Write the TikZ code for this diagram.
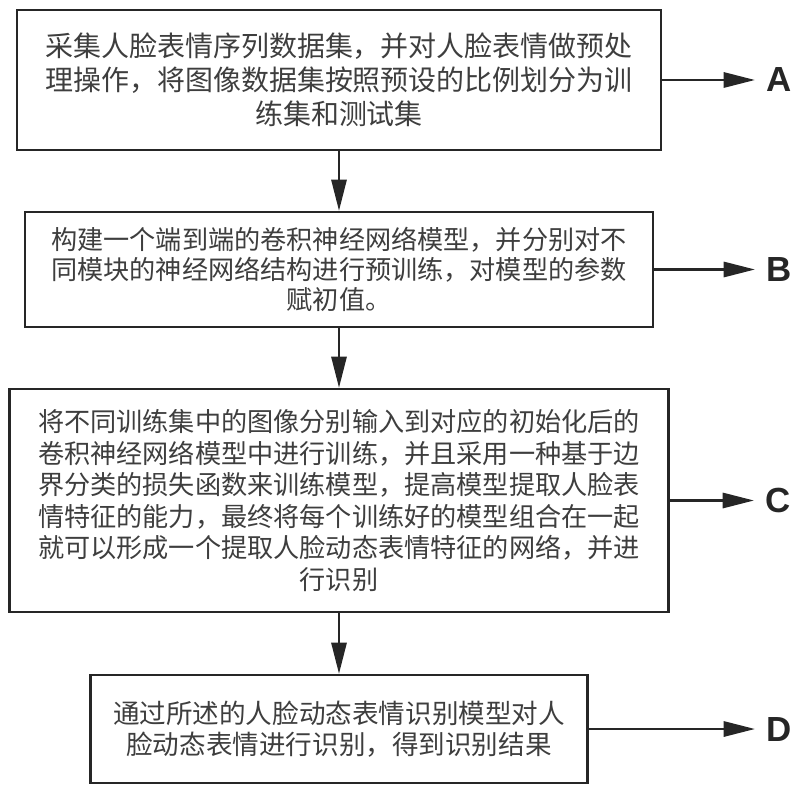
\documentclass[tikz,border=0pt]{standalone}
\usepackage{fontspec}
\setmainfont{Noto Sans CJK SC}
\newfontfamily\letterfont{Liberation Sans}
\usetikzlibrary{arrows.meta}
\definecolor{textgray}{RGB}{62,62,62}

\begin{document}
\begin{tikzpicture}[x=0.025cm, y=-0.025cm,
  box/.style={draw=black!85, line width=1.7pt, fill=white, align=center, text=textgray, inner sep=0pt},
  arr/.style={draw=black!85, line width=1.7pt, -{Triangle[length=0.78cm, width=0.38cm]}},
  sidearr/.style={arr, shorten >=0.28cm},
  lab/.style={font=\letterfont\bfseries\fontsize{24.8}{24.8}\selectfont, text=black!85, inner sep=0pt}]
\useasboundingbox (0,0) rectangle (800,793);
\node [box, minimum width=16.1cm, minimum height=3.5cm, font=\fontsize{19.9}{24.2}\selectfont] (step1) at (339,80) {采集人脸表情序列数据集，并对人脸表情做预处\\理操作，将图像数据集按照预设的比例划分为训\\练集和测试集};
\node [box, minimum width=15.7cm, minimum height=2.875cm, font=\fontsize{18.6}{21.6}\selectfont] (step2) at (339,269.5) {构建一个端到端的卷积神经网络模型，并分别对不\\同模块的神经网络结构进行预训练，对模型的参数\\赋初值。};
\node [box, minimum width=16.475cm, minimum height=5.575cm, font=\fontsize{18.6}{22.5}\selectfont] (step3) at (339,500.5) {将不同训练集中的图像分别输入到对应的初始化后的\\卷积神经网络模型中进行训练，并且采用一种基于边\\界分类的损失函数来训练模型，提高模型提取人脸表\\情特征的能力，最终将每个训练好的模型组合在一起\\就可以形成一个提取人脸动态表情特征的网络，并进\\行识别};
\node [box, minimum width=12.425cm, minimum height=2.7cm, font=\fontsize{18.9}{21.6}\selectfont] (step4) at (339,729) {通过所述的人脸动态表情识别模型对人\\脸动态表情进行识别，得到识别结果};
% labels on the right
\node [lab] (labA) at (779,80) {A};
\node [lab] (labB) at (779,269.5) {B};
\node [lab] (labC) at (778,500.5) {C};
\node [lab] (labD) at (779,729) {D};
% flow arrows
\draw [arr] (step1.south) -- (step2.north);
\draw [arr] (step2.south) -- (step3.north);
\draw [arr] (step3.south) -- (step4.north);
\draw [sidearr] (step1.east) -- (labA.west);
\draw [sidearr] (step2.east) -- (labB.west);
\draw [sidearr] (step3.east) -- (labC.west);
\draw [sidearr] (step4.east) -- (labD.west);
\end{tikzpicture}
\end{document}
